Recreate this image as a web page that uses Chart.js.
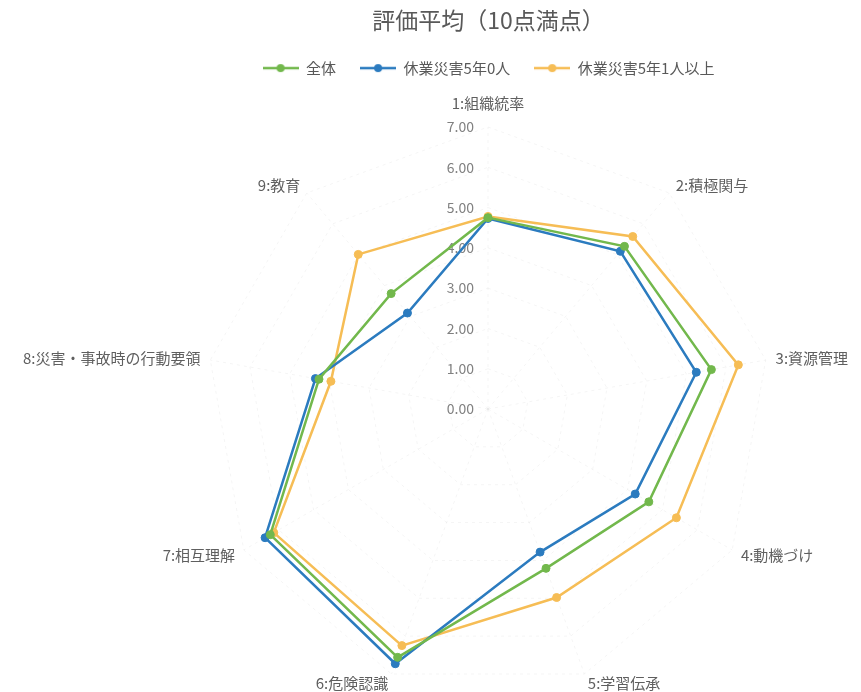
<!DOCTYPE html>
<html>
<head>
<meta charset="utf-8">
<script src="https://cdn.jsdelivr.net/npm/chart.js@4.4.1/dist/chart.umd.min.js"></script>
<style>
  body { margin: 0; background: #ffffff; }
  #wrap { width: 861px; height: 692px; }
</style>
</head>
<body>
<div id="wrap"><canvas id="radar"></canvas></div>
<script>
const categories = [
  "1:組織統率",
  "2:積極関与",
  "3:資源管理",
  "4:動機づけ",
  "5:学習伝承",
  "6:危険認識",
  "7:相互理解",
  "8:災害・事故時の行動要領",
  "9:教育",
];
const seriesNames = ["全体", "休業災害5年0人", "休業災害5年1人以上"];
const zentai = [4.75, 5.27, 5.63, 4.61, 4.21, 6.56, 6.24, 4.26, 3.74];
const zero = [4.73, 5.11, 5.25, 4.22, 3.78, 6.73, 6.39, 4.35, 3.11];
const onePlus = [4.78, 5.59, 6.31, 5.4, 4.98, 6.25, 6.14, 3.96, 5.01];
const scaleMin = 0;
const scaleMax = 7;
const scaleStep = 1;

const colors = ["#72b84c", "#2b7bbf", "#f6bd55"];
const FONT = '"Noto Sans CJK JP", "Noto Sans", sans-serif';
Chart.defaults.font.family = FONT;

// legend marker: short line with a dot in the middle
function lineMarker(color) {
  const c = document.createElement("canvas");
  c.width = 36;
  c.height = 10;
  const g = c.getContext("2d");
  g.strokeStyle = color;
  g.lineWidth = 2.5;
  g.beginPath();
  g.moveTo(0, 5);
  g.lineTo(36, 5);
  g.stroke();
  g.fillStyle = color;
  g.beginPath();
  g.arc(18, 5, 4, 0, Math.PI * 2);
  g.fill();
  return c;
}
const markers = colors.map(lineMarker);

const legendSpace = {
  id: "legendSpace",
  beforeInit(chart) {
    const fit = chart.legend.fit;
    chart.legend.fit = function () {
      fit.call(this);
      this.height += 42;
    };
  },
};

// tick labels to the left of the axis, category labels around the web
const radarText = {
  id: "radarText",
  beforeDatasetsDraw(chart) {
    const r = chart.scales.r;
    const ctx = chart.ctx;
    ctx.save();
    ctx.font = "14px " + FONT;
    ctx.fillStyle = "#808080";
    ctx.textAlign = "right";
    ctx.textBaseline = "middle";
    r.ticks.forEach((t) => {
      const p = r.getPointPositionForValue(0, t.value);
      ctx.fillText(t.value.toFixed(2), p.x - 14, p.y);
    });
    ctx.restore();
  },
  afterDraw(chart) {
    const r = chart.scales.r;
    const ctx = chart.ctx;
    ctx.save();
    ctx.font = "15px " + FONT;
    ctx.fillStyle = "#5f5f5f";
    chart.data.labels.forEach((label, i) => {
      const p = r.getPointPosition(i, r.drawingArea + 10);
      const deg = Math.round((r.getIndexAngle(i) * 180) / Math.PI) % 360;
      ctx.textAlign = deg === 0 || deg === 180 ? "center" : deg < 180 ? "left" : "right";
      ctx.textBaseline = deg === 0 ? "bottom" : deg === 180 ? "top" : "middle";
      ctx.fillText(label, p.x, deg === 0 ? p.y - 6 : p.y);
    });
    ctx.restore();
  },
};

const datasets = [zentai, zero, onePlus].map((values, i) => {
  return {
    label: seriesNames[i],
    data: values,
    borderColor: colors[i],
    backgroundColor: colors[i],
    pointBackgroundColor: colors[i],
    pointBorderColor: colors[i],
    borderWidth: 2.5,
    pointRadius: 4,
    pointBorderWidth: 1,
    fill: false,
  };
});

new Chart(document.getElementById("radar").getContext("2d"), {
  type: "radar",
  data: { labels: categories, datasets: datasets },
  plugins: [legendSpace, radarText],
  options: {
    responsive: true,
    maintainAspectRatio: false,
    animation: false,
    layout: { padding: { left: 116, right: 0, top: 0, bottom: 0 } },
    plugins: {
      title: {
        display: true,
        text: "評価平均（10点満点）",
        color: "#595959",
        font: { size: 23, weight: "normal" },
        padding: { top: 6, bottom: 3 },
      },
      legend: {
        labels: {
          color: "#595959",
          font: { size: 15 },
          padding: 24,
          usePointStyle: true,
          pointStyleWidth: 36,
          generateLabels: (chart) => {
            return Chart.defaults.plugins.legend.labels
              .generateLabels(chart)
              .map((item, i) => {
                item.pointStyle = markers[i];
                return item;
              });
          },
        },
      },
      tooltip: { enabled: false },
    },
    scales: {
      r: {
        min: scaleMin,
        max: scaleMax,
        ticks: { stepSize: scaleStep, display: false },
        pointLabels: { display: false },
        grid: { color: "rgba(0,0,0,0.045)" },
        border: { dash: [3, 4] },
        angleLines: { color: "rgba(0,0,0,0.045)", borderDash: [3, 4] },
      },
    },
  },
});
</script>
</body>
</html>
